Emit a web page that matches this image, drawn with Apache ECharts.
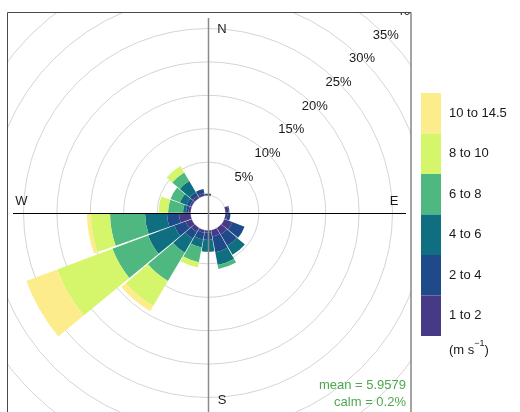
<!DOCTYPE html>
<html><head><meta charset="utf-8">
<script src="https://cdn.jsdelivr.net/npm/echarts@6/dist/echarts.min.js"></script>
<style>html,body{margin:0;padding:0;background:#fff}#c{width:520px;height:412px}</style>
</head><body><div id="c"></div>
<script>
// wind direction bins (degrees, 20° sectors)
const directions = [20,40,60,80,100,120,140,160,180,200,220,240,260,280,300,320,340,360];
// speed bands (m/s)
const speedBands = ['1 to 2','2 to 4','4 to 6','6 to 8','8 to 10','10 to 14.5'];
const bandColors = ['#463a86','#1f4a8a','#0f6e80','#4fb880','#d5f56b','#fdec8c'];
// frequency (%) per band for each direction
const band1to2   = [0,0,0,0.45,0.30,1.27,1.12,0.97,0.30,0.40,0.67,0.97,1.72,0.30,0.30,0.37,0.37,0.05];
const band2to4   = [0,0,0,0.15,0.45,1.95,1.95,2.40,1.12,1.02,1.20,1.80,1.80,0.37,0.52,0.60,0.68,0.20];
const band4to6   = [0,0,0,0,   0,   0,   1.57,1.94,1.75,1.20,2.40,4.19,3.29,0.45,1.05,1.95,0,   0];
const band6to8   = [0,0,0,0,   0,   0,   0,   0.60,0,   2.25,4.94,5.69,5.24,2.25,1.50,1.50,0,   0];
const band8to10  = [0,0,0,0,   0,   0,   0,   0,   0,   0.82,4.34,8.83,2.85,1.42,0,   1.12,0,   0];
const band10to14 = [0,0,0,0,   0,   0,   0,   0,   0,   0,   0.90,4.94,0.60,0,   0,   0,   0,   0];
const bandValues = [band1to2, band2to4, band4to6, band6to8, band8to10, band10to14];
// ring tick values (%)
const ringMax = 40, ringStep = 5;
const meanText = 'mean = 5.9579';
const calmText = 'calm = 0.2%';

const FONT = '"Liberation Sans", Arial, sans-serif';
const chart = echarts.init(document.getElementById('c'), null, {renderer:'canvas'});
const C = [208, 213];
const R = [17.5, 284.7];

const series = bandValues.map((vals, i) => ({
  type: 'bar', coordinateSystem: 'polar', polarIndex: 0, stack: 'ws',
  name: speedBands[i], data: vals, barCategoryGap: '5%',
  itemStyle: { color: bandColors[i] }, emphasis: { disabled: true }, z: 2
}));

chart.setOption({
  animation: false,
  polar: [{ center: C, radius: R }, { center: C, radius: R }],
  angleAxis: [
    { polarIndex: 0, type: 'category', data: directions, startAngle: 80, clockwise: true,
      boundaryGap: true,
      axisLine: { show: false }, axisTick: { show: false }, axisLabel: { show: false }, splitLine: { show: false } },
    { polarIndex: 1, type: 'value', min: 0, max: 360, startAngle: 45,
      axisLine: { show: false }, axisTick: { show: false }, axisLabel: { show: false }, splitLine: { show: false } }
  ],
  radiusAxis: [
    { polarIndex: 0, type: 'value', min: 0, max: ringMax, interval: ringStep,
      axisLine: { show: false }, axisTick: { show: false }, axisLabel: { show: false },
      splitLine: { show: true, showMinLine: false, lineStyle: { color: '#d4d4d4', width: 1 } } },
    { polarIndex: 1, type: 'value', min: 0, max: ringMax, interval: ringStep, z: 10,
      axisLine: { show: false }, axisTick: { show: false }, splitLine: { show: false },
      axisLabel: { show: true, showMinLabel: false, margin: 0, formatter: v => v + '%',
        fontSize: 13, color: '#1a1a1a', fontFamily: FONT, align: 'center', verticalAlign: 'middle' } }
  ],
  legend: {
    orient: 'vertical', left: 421, top: 93, itemWidth: 20, itemHeight: 40.5, itemGap: 0,
    icon: 'rect', padding: 0, selectedMode: false, z: 60,
    data: speedBands.slice().reverse(),
    textStyle: { fontSize: 13, color: '#1a1a1a', fontFamily: FONT, padding: [0,0,0,3] }
  },
  series: series,
  graphic: { elements: [
    { type: 'rect', z: 50, shape: { x: 0, y: 0, width: 520, height: 12 }, style: { fill: '#fff' } },
    { type: 'rect', z: 50, shape: { x: 411, y: 0, width: 109, height: 412 }, style: { fill: '#fff' } },
    { type: 'rect', z: 50, shape: { x: 0, y: 0, width: 7, height: 412 }, style: { fill: '#fff' } },
    { type: 'rect', z: 51, shape: { x: 7.5, y: 12.5, width: 403.5, height: 420 }, style: { fill: null, stroke: '#4a4a4a', lineWidth: 1 } },
    { type: 'line', z: 52, shape: { x1: 13, y1: 213.5, x2: 406, y2: 213.5 }, style: { stroke: '#000', lineWidth: 1 } },
    { type: 'line', z: 52, shape: { x1: 208.5, y1: 18, x2: 208.5, y2: 412 }, style: { stroke: '#8a8a8a', lineWidth: 1.5 } },
    { type: 'text', z: 53, x: 222, y: 29, style: { text: 'N', fill: '#1a1a1a', font: '13px ' + FONT, align: 'center', verticalAlign: 'middle' } },
    { type: 'text', z: 53, x: 222, y: 400, style: { text: 'S', fill: '#1a1a1a', font: '13px ' + FONT, align: 'center', verticalAlign: 'middle' } },
    { type: 'text', z: 53, x: 21.5, y: 201.5, style: { text: 'W', fill: '#1a1a1a', font: '13px ' + FONT, align: 'center', verticalAlign: 'middle' } },
    { type: 'text', z: 53, x: 394, y: 201.5, style: { text: 'E', fill: '#1a1a1a', font: '13px ' + FONT, align: 'center', verticalAlign: 'middle' } },
    { type: 'text', z: 53, x: 406, y: 385, style: { text: meanText, fill: '#4fa84f', font: '13px ' + FONT, align: 'right', verticalAlign: 'middle' } },
    { type: 'text', z: 53, x: 406, y: 402, style: { text: calmText, fill: '#4fa84f', font: '13px ' + FONT, align: 'right', verticalAlign: 'middle' } },
    { type: 'text', z: 61, x: 449, y: 348, style: {
        text: '{a|(m s}{b|\u22121}{a|)}', fill: '#1a1a1a', align: 'left', verticalAlign: 'middle',
        rich: { a: { fontSize: 13, fontFamily: FONT, lineHeight: 18, verticalAlign: 'bottom' },
                b: { fontSize: 9, fontFamily: FONT, lineHeight: 18, verticalAlign: 'top' } } } }
  ] }
});
</script>
</body></html>
